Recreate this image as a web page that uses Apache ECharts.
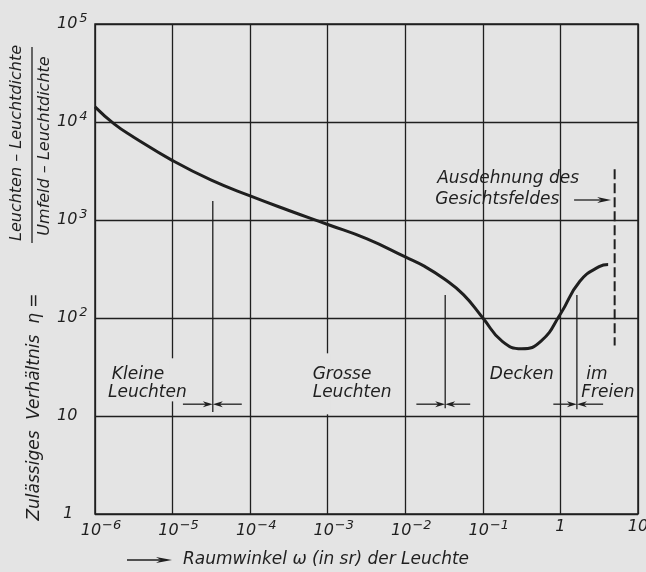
<!DOCTYPE html>
<html>
<head>
<meta charset="utf-8">
<style>
html, body { margin: 0; padding: 0; background: #e4e4e4; }
#chart { width: 646px; height: 572px; }
</style>
<script src="https://cdn.jsdelivr.net/npm/echarts@6/dist/echarts.min.js"></script>
</head>
<body>
<div id="chart"></div>
<script>
// Raumwinkel omega (sr) and permissible ratio eta
const omega = [1e-6, 1.78e-6, 3.16e-6, 1e-5, 3.16e-5, 1e-4, 3.16e-4, 1e-3, 3.16e-3, 1e-2, 0.0178, 0.0316, 0.0562, 0.1, 0.178, 0.316, 0.562, 1, 1.78, 3.16, 4.12];
const eta = [14250, 9500, 7000, 4040, 2550, 1760, 1250, 900, 645, 420, 336, 251, 173, 100, 57.7, 48.5, 58, 110, 237, 334, 352];

// tick labels, indexed by decade (x from 10^-6, y from 10^0)
const xTickLabels = ['{b|10}{s|−6}', '{b|10}{s|−5}', '{b|10}{s|−4}', '{b|10}{s|−3}', '{b|10}{s|−2}', '{b|10}{s|−1}', '1', '10'];
const yTickLabels = ['{c|1}', '10', '10{s|2}', '10{s|3}', '10{s|4}', '10{s|5}'];

// region boundaries (short vertical lines with arrow pairs)
const boundaryOmega = [3.3e-5, 0.0327, 1.63];
const boundaryTop = [1560, 172, 172];
const boundaryBottom = [11, 12, 11.7];
const arrowLeft = [1.36e-5, 0.0139, 0.81];
const arrowRight = [7.8e-5, 0.0687, 3.55];
const arrowEta = 13.2;

// extent of the visual field (dashed line)
const fieldOmega = 5.0;
const fieldEta = [3300, 52.5];
const fieldArrowOmega = [1.5, 4.5];
const fieldArrowEta = 1600;

const ink = '#1f1f1f';
const paper = '#e4e4e4';
const font = '"DejaVu Sans", sans-serif';

const chart = echarts.init(document.getElementById('chart'));

chart.setOption({
  backgroundColor: paper,
  animation: false,
  grid: {
    left: 95, top: 24, right: 8, bottom: 58, outerBoundsMode: 'none', containLabel: false,
    show: true, borderColor: ink, borderWidth: 1.5, backgroundColor: 'transparent'
  },
  xAxis: {
    type: 'log', logBase: 10, min: 1e-6, max: 10, interval: 1,
    axisLine: { show: false }, axisTick: { show: false },
    splitLine: { show: true, lineStyle: { color: ink, width: 1.3 } },
    axisLabel: {
      margin: 5, color: ink, fontFamily: font, fontStyle: 'italic', fontSize: 16,
      formatter: v => xTickLabels[Math.round(Math.log10(v)) + 6],
      rich: {
        b: { fontFamily: font, fontStyle: 'italic', fontSize: 16, color: ink, padding: [0, 0, 0, 12] },
        s: { fontFamily: font, fontStyle: 'italic', fontSize: 13, color: ink, padding: [0, 0, 10, 1] }
      }
    }
  },
  yAxis: {
    type: 'log', logBase: 10, min: 1, max: 1e5, interval: 1,
    axisLine: { show: false }, axisTick: { show: false },
    splitLine: { show: true, lineStyle: { color: ink, width: 1.3 } },
    axisLabel: {
      margin: 38, align: 'left', color: ink, fontFamily: font, fontStyle: 'italic', fontSize: 16,
      formatter: v => yTickLabels[Math.round(Math.log10(v))],
      rich: {
        c: { fontFamily: font, fontStyle: 'italic', fontSize: 16, color: ink, width: 22, align: 'center' },
        s: { fontFamily: font, fontStyle: 'italic', fontSize: 13, color: ink, padding: [0, 0, 10, 2] }
      }
    }
  },
  series: [{
    type: 'line',
    data: omega.map((o, i) => [o, eta[i]]),
    showSymbol: false,
    smooth: 0.5,
    lineStyle: { color: ink, width: 3 },
    emphasis: { disabled: true },
    silent: true,
    z: 3
  }]
});

const pt = (o, e) => chart.convertToPixel({ xAxisIndex: 0, yAxisIndex: 0 }, [o, e]);

function hArrow(xFrom, xTo, y, head, half) {
  const d = Math.sign(xTo - xFrom);
  return [
    { type: 'line', z: 4, shape: { x1: xFrom, y1: y, x2: xTo - d * head * 0.6, y2: y }, style: { stroke: ink, lineWidth: 1.3 } },
    { type: 'polygon', z: 4, shape: { points: [[xTo, y], [xTo - d * head, y - half], [xTo - d * head * 0.7, y], [xTo - d * head, y + half]] }, style: { fill: ink } }
  ];
}

function label(text, o, e, size) {
  const p = pt(o, e);
  return { type: 'text', z: 5, x: p[0], y: p[1], style: { text: text, font: 'italic ' + size + 'px ' + font, fill: ink, align: 'left', verticalAlign: 'middle', textAlign: 'left', textVerticalAlign: 'middle' } };
}

const els = [];

// gaps in the grid lines where labels sit
[[1e-5, 38.8, 14.1], [1e-3, 43.6, 10.4]].forEach(m => {
  const a = pt(m[0], m[1]), b = pt(m[0], m[2]);
  els.push({ type: 'rect', z: 1, shape: { x: a[0] - 3, y: a[1], width: 6, height: b[1] - a[1] }, style: { fill: paper } });
});

boundaryOmega.forEach((o, i) => {
  const a = pt(o, boundaryTop[i]), b = pt(o, boundaryBottom[i]);
  els.push({ type: 'line', z: 4, shape: { x1: a[0], y1: a[1], x2: b[0], y2: b[1] }, style: { stroke: ink, lineWidth: 1.3 } });
  const y = pt(o, arrowEta)[1];
  els.push(...hArrow(pt(arrowLeft[i], arrowEta)[0], a[0], y, 10, 3));
  els.push(...hArrow(pt(arrowRight[i], arrowEta)[0], a[0], y, 10, 3));
});

{
  const a = pt(fieldOmega, fieldEta[0]), b = pt(fieldOmega, fieldEta[1]);
  els.push({ type: 'line', z: 4, shape: { x1: a[0], y1: a[1], x2: b[0], y2: b[1] }, style: { stroke: ink, lineWidth: 2, lineDash: [10, 4] } });
  const y = pt(1, fieldArrowEta)[1];
  els.push(...hArrow(pt(fieldArrowOmega[0], 1)[0], pt(fieldArrowOmega[1], 1)[0], y, 14, 3));
}

els.push(label('Kleine', 1.65e-6, 26.6, 17));
els.push(label('Leuchten', 1.47e-6, 17.4, 17));
els.push(label('Grosse', 6.4e-4, 26.6, 17));
els.push(label('Leuchten', 6.4e-4, 17.4, 17));
els.push(label('Decken', 0.123, 26.6, 17));
els.push(label('im', 2.15, 26.6, 17));
els.push(label('Freien', 1.86, 17.4, 17));
els.push(label('Ausdehnung des', 0.0258, 2620, 17));
els.push(label('Gesichtsfeldes', 0.0243, 1600, 17));

// y axis title with fraction
const rotText = (text, x, y, size) => ({
  type: 'text', z: 5, x: x, y: y, rotation: Math.PI / 2,
  style: { text: text, font: 'italic ' + size + 'px ' + font, fill: ink, align: 'center', verticalAlign: 'middle', textAlign: 'center', textVerticalAlign: 'middle' }
});
els.push(rotText('Zulässiges  Verhältnis  η =', 35, 407, 17));
els.push(rotText('Leuchten – Leuchtdichte', 17, 143, 16));
els.push(rotText('Umfeld – Leuchtdichte', 45, 146, 16));
els.push({ type: 'line', z: 5, shape: { x1: 32, y1: 47, x2: 32, y2: 243 }, style: { stroke: ink, lineWidth: 1.3 } });

// x axis title
els.push(...hArrow(127, 172, 560, 16, 3));
els.push({ type: 'text', z: 5, x: 183, y: 560, style: { text: 'Raumwinkel ω (in sr) der Leuchte', font: 'italic 17px ' + font, fill: ink, align: 'left', verticalAlign: 'middle', textAlign: 'left', textVerticalAlign: 'middle' } });

chart.setOption({ graphic: { elements: els } });
</script>
</body>
</html>
